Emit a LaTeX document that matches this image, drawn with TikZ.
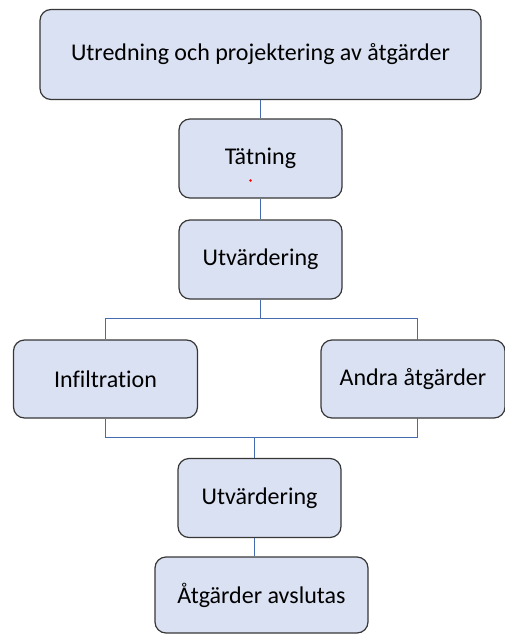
\documentclass[tikz,border=0pt]{standalone}
\usepackage{fontspec}
\setmainfont[Ligatures=NoCommon]{Carlito}
\usepackage{tikz}
\definecolor{boxfill}{RGB}{218,225,242}
\definecolor{boxline}{RGB}{55,55,55}
\definecolor{linkblue}{RGB}{70,108,175}
\tikzset{
  flownode/.style = {align=center, inner sep=0pt, text centered,
    font=\fontsize{24}{29}\selectfont},
  box_stor/.style = {flownode, rectangle, rounded corners=11pt, draw=boxline,
    fill=boxfill, line width=1.2pt, minimum width=441pt, minimum height=90pt},% stor ruta
  box_med/.style = {flownode, rectangle, rounded corners=11pt, draw=boxline,
    fill=boxfill, line width=1.2pt, minimum width=163pt, minimum height=79pt},
  box_bred/.style = {flownode, rectangle, rounded corners=11pt, draw=boxline,
    fill=boxfill, line width=1.2pt, minimum width=184pt, minimum height=78pt},
  box_slut/.style = {flownode, rectangle, rounded corners=11pt, draw=boxline,
    fill=boxfill, line width=1.2pt, minimum width=213pt, minimum height=76pt},
  link/.style = {draw, color=linkblue, line width=1.1pt},
}
\begin{document}
\begin{tikzpicture}[x=1pt,y=-1pt]
  \useasboundingbox (0,0) rectangle (505,634);

  \node[box_stor] (utred) at (260.5,54.5) {Utredning och projektering av åtgärder};
  \node[box_med] (tatn) at (260.5,158.5) {Tätning};
  \node[box_med] (utv1) at (260.5,259.5) {Utvärdering};

  \node[box_bred] (infil) at (105.5,379) {Infiltration};
  \node[box_bred] (andra) at (413,379) {Andra åtgärder};

  \node[box_med] (utv2) at (259.5,498) {Utvärdering};
  \node[box_slut] (avsl) at (261.5,595) {Åtgärder avslutas};

  \coordinate (split) at (260.5,318.5);
  \coordinate (join) at (254.5,437.5);

  % ner till tatning
  \path[link] (utred.south) -- (tatn.north);
  \path[link] (tatn.south) -- (utv1.north);
  % delning
  \path[link] (utv1.south) -- (split);
  \path[link] (split) -| (infil.north);
  \path[link] (split) -| (417.5,340);
  % sammanfogning
  \path[link] (infil.south) |- (join);
  \path[link] (417.5,418) |- (join);
  \path[link] (join) -- (join |- utv2.north);
  \path[link] (join |- utv2.south) -- (join |- avsl.north);

  \fill[red] (250.5,180.5) circle (1.4pt);
\end{tikzpicture}
\end{document}
